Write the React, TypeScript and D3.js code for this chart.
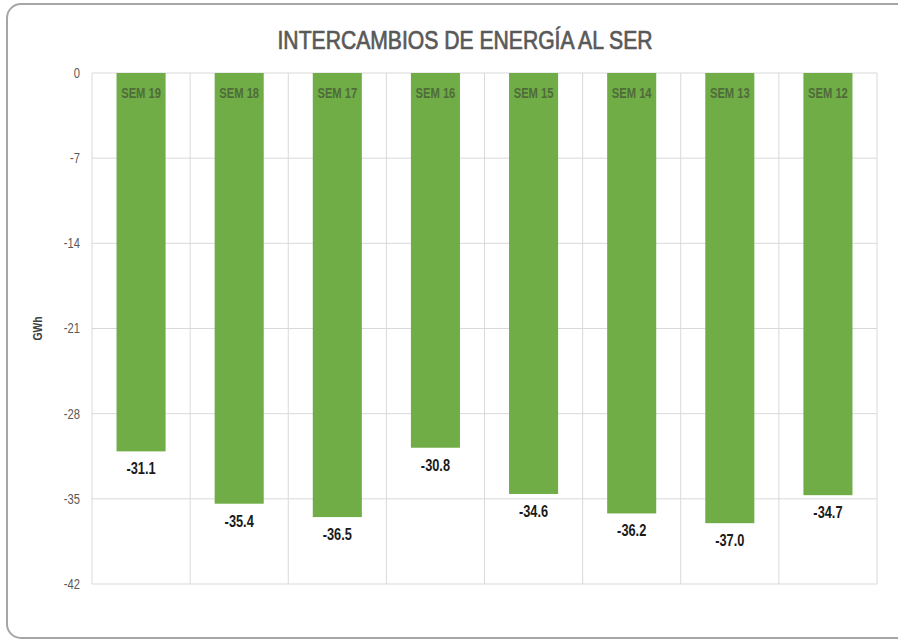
import { useEffect, useRef } from 'react';
import * as d3 from 'd3';

const semanas = ['SEM 19', 'SEM 18', 'SEM 17', 'SEM 16', 'SEM 15', 'SEM 14', 'SEM 13', 'SEM 12'];
const valores = [-31.1, -35.4, -36.5, -30.8, -34.6, -36.2, -37.0, -34.7];
const yTicks = [0, -7, -14, -21, -28, -35, -42];

const FONT = "'Liberation Sans Narrow', 'Arial Narrow', 'Liberation Sans', Arial, sans-serif";
// no hay fuente estrecha: se comprime en horizontal
const NARROW = 0.8;

export default function App() {
  const ref = useRef<SVGSVGElement | null>(null);

  useEffect(() => {
    const width = 898;
    const height = 641;
    const margin = { top: 73, right: 21, bottom: 57, left: 92 };

    d3.select(ref.current).selectAll('*').remove();
    const svg = d3.select(ref.current).attr('width', width).attr('height', height);

    // marco
    svg.append('rect')
      .attr('x', 7).attr('y', 4)
      .attr('width', 910).attr('height', 634)
      .attr('rx', 14)
      .attr('fill', 'white')
      .attr('stroke', '#a6a6a6')
      .attr('stroke-width', 2);

    svg.append('text')
      .attr('x', 465).attr('y', 49)
      .attr('text-anchor', 'middle')
      .attr('font-family', FONT)
      .attr('font-size', 25)
      .attr('textLength', 375)
      .attr('lengthAdjust', 'spacingAndGlyphs')
      .attr('fill', '#595959')
      .attr('stroke', '#595959')
      .attr('stroke-width', 0.7)
      .text('INTERCAMBIOS DE ENERGÍA AL SER');

    const x = d3.scaleBand<string>()
      .domain(semanas)
      .range([margin.left, width - margin.right])
      .paddingInner(0)
      .paddingOuter(0);

    const y = d3.scaleLinear()
      .domain([0, -42])
      .range([margin.top, height - margin.bottom]);

    // rejilla horizontal
    svg.append('g')
      .selectAll('line')
      .data(yTicks)
      .enter().append('line')
      .attr('x1', margin.left).attr('x2', width - margin.right)
      .attr('y1', d => y(d)).attr('y2', d => y(d))
      .attr('stroke', '#d9d9d9').attr('stroke-width', 1);

    // rejilla vertical
    const bounds = [...semanas.map(s => x(s) as number), width - margin.right];
    svg.append('g')
      .selectAll('line')
      .data(bounds)
      .enter().append('line')
      .attr('x1', d => d).attr('x2', d => d)
      .attr('y1', margin.top).attr('y2', height - margin.bottom)
      .attr('stroke', '#d9d9d9').attr('stroke-width', 1);

    // eje Y
    svg.append('g')
      .selectAll('text')
      .data(yTicks)
      .enter().append('text')
      .attr('transform', d => `translate(${margin.left - 12},${y(d)}) scale(${NARROW},1)`)
      .attr('dy', '0.35em')
      .attr('text-anchor', 'end')
      .attr('font-family', FONT)
      .attr('font-size', 14)
      .attr('fill', '#595959')
      .text(d => String(d));

    svg.append('text')
      .attr('transform', `translate(42,${(margin.top + height - margin.bottom) / 2}) rotate(-90) scale(${NARROW},1)`)
      .attr('text-anchor', 'middle')
      .attr('font-family', FONT)
      .attr('font-size', 13)
      .attr('font-weight', 'bold')
      .attr('fill', '#404040')
      .text('GWh');

    const barW = x.bandwidth() * 0.5;
    const bars = svg.append('g')
      .selectAll('g')
      .data(semanas.map((s, i) => ({ s, v: valores[i] })))
      .enter().append('g');

    bars.append('rect')
      .attr('x', d => (x(d.s) as number) + (x.bandwidth() - barW) / 2)
      .attr('y', y(0))
      .attr('width', barW)
      .attr('height', d => y(d.v) - y(0))
      .attr('fill', '#70ad47');

    bars.append('text')
      .attr('transform', d => `translate(${(x(d.s) as number) + x.bandwidth() / 2},${y(0) + 25}) scale(${NARROW},1)`)
      .attr('text-anchor', 'middle')
      .attr('font-family', FONT)
      .attr('font-size', 14)
      .attr('font-weight', 'bold')
      .attr('fill', '#4f6b3a')
      .text(d => d.s);

    bars.append('text')
      .attr('transform', d => `translate(${(x(d.s) as number) + x.bandwidth() / 2},${y(d.v) + 23}) scale(${NARROW},1)`)
      .attr('text-anchor', 'middle')
      .attr('font-family', FONT)
      .attr('font-size', 16)
      .attr('font-weight', 'bold')
      .attr('fill', '#1a1a1a')
      .text(d => d.v.toFixed(1));
  }, []);

  return (
    <div style={{ position: 'absolute', top: 0, left: 0, background: 'white' }}>
      <svg ref={ref} style={{ display: 'block' }}></svg>
    </div>
  );
}
